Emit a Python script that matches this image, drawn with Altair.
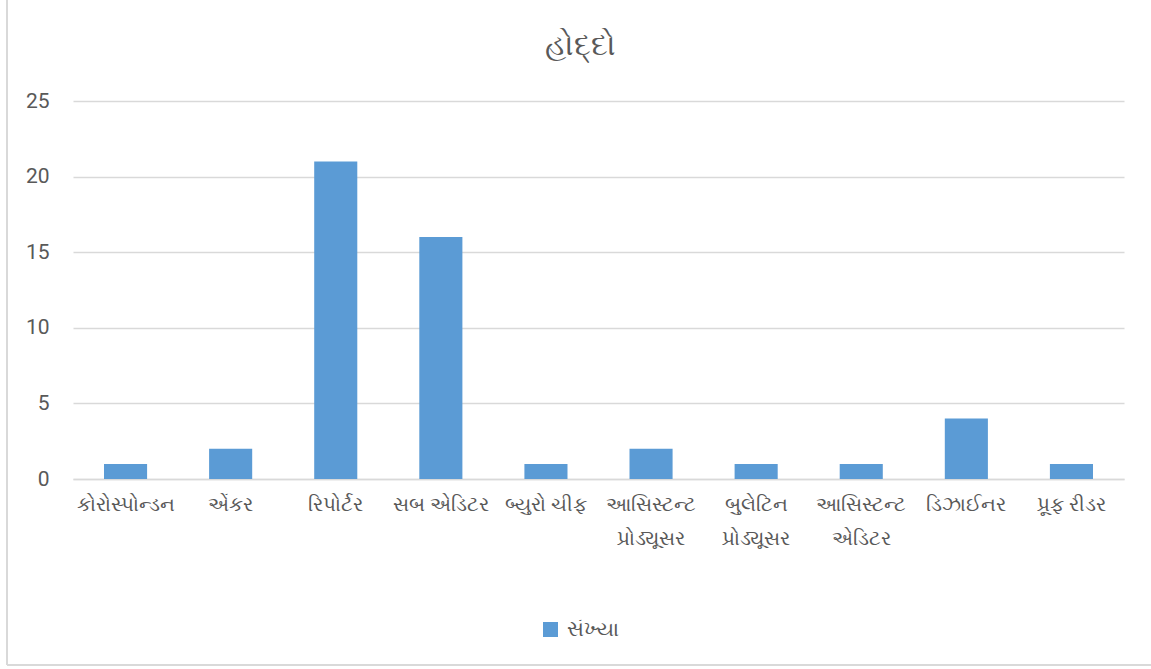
import altair as alt
import pandas as pd

categories = [
    "કોરોસ્પોન્ડન",
    "એંકર",
    "રિપોર્ટર",
    "સબ એડિટર",
    "બ્યુરો ચીફ",
    "આસિસ્ટન્ટ\nપ્રોડ્યૂસર",
    "બુલેટિન\nપ્રોડ્યૂસર",
    "આસિસ્ટન્ટ\nએડિટર",
    "ડિઝાઈનર",
    "પ્રૂફ રીડર",
]
values = [1, 2, 21, 16, 1, 2, 1, 1, 4, 1]
series_name = "સંખ્યા"
title_text = "હોદ્દો"

df = pd.DataFrame({"category": categories, "value": values, "series": series_name})

FONT = "Roboto, Noto Sans, sans-serif"
TXT = "#595959"

bars = alt.Chart(df).mark_bar(color="#5b9bd5").encode(
    x=alt.X(
        "category:N",
        sort=categories,
        title=None,
        scale=alt.Scale(paddingInner=0.59, paddingOuter=0.295),
        axis=alt.Axis(
            labelAngle=0,
            labelExpr="split(datum.label, '\\n')",
            labelFont=FONT,
            labelFontSize=19.5,
            labelColor=TXT,
            labelPadding=16,
            labelLineHeight=34,
            labelBaseline="top",
            ticks=False,
            domainColor="#d9d9d9",
            domainWidth=1.3,
            labelLimit=200,
        ),
    ),
    y=alt.Y(
        "value:Q",
        title=None,
        scale=alt.Scale(domain=[0, 25]),
        axis=alt.Axis(
            values=[0, 5, 10, 15, 20, 25],
            labelFont=FONT,
            labelFontSize=21,
            labelColor=TXT,
            labelPadding=24,
            ticks=False,
            domain=False,
            gridColor="#d9d9d9",
            gridWidth=1.3,
        ),
    ),
    color=alt.Color(
        "series:N",
        scale=alt.Scale(range=["#5b9bd5"]),
        legend=alt.Legend(
            title=None,
            orient="none",
            legendX=467,
            legendY=518,
            symbolType="square",
            symbolSize=225,
            symbolStrokeWidth=0,
            labelFont=FONT,
            labelFontSize=21,
            labelColor=TXT,
            labelOffset=6,
        ),
    ),
)

frame_v = alt.Chart(df).mark_rule(color="#d9d9d9", strokeWidth=2).encode(
    x=alt.value(-66), y=alt.value(-101), y2=alt.value(564)
)
frame_h = alt.Chart(df).mark_rule(color="#d9d9d9", strokeWidth=2).encode(
    x=alt.value(-66), x2=alt.value(1078), y=alt.value(564)
)

chart = (
    alt.layer(bars, frame_v, frame_h)
    .properties(
        width=1051,
        height=378,
        autosize=alt.AutoSizeParams(type="none"),
        padding={"left": 73, "top": 101, "right": 27, "bottom": 190},
        background="white",
        title=alt.TitleParams(
            title_text,
            font=FONT,
            fontSize=30,
            fontWeight="normal",
            color=TXT,
            offset=-62,
            dx=-18,
            anchor="middle",
        ),
    )
    .configure_view(stroke="transparent", strokeWidth=0)
)

chart.save("out.html", embed_options={"renderer": "svg", "actions": False})
